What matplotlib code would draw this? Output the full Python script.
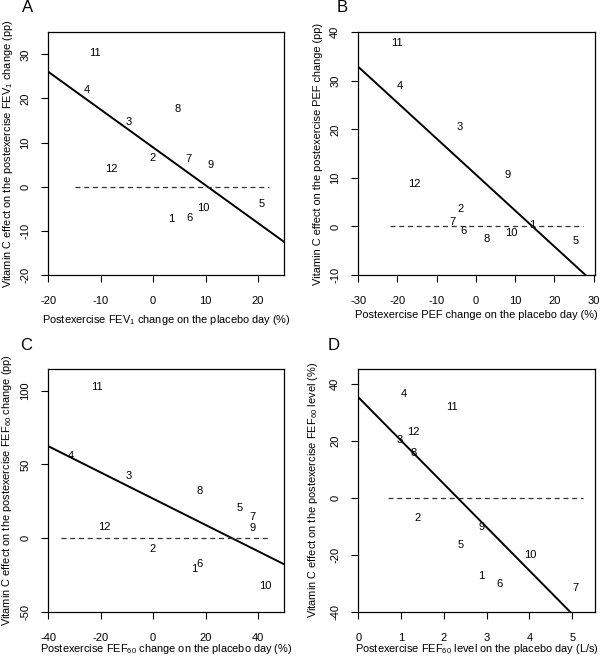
import matplotlib
matplotlib.use("Agg")
import matplotlib.pyplot as plt
import numpy as np

plt.rcParams['font.family'] = ['Liberation Sans', 'DejaVu Sans']
plt.rcParams['mathtext.fontset'] = 'custom'
plt.rcParams['mathtext.rm'] = 'Liberation Sans'
plt.rcParams['mathtext.it'] = 'Liberation Sans:italic'
plt.rcParams['axes.unicode_minus'] = False

ids = ['1', '2', '3', '4', '5', '6', '7', '8', '9', '10', '11', '12']

# panel A: FEV1
fev_x = [3.4, -0.1, -4.7, -12.7, 20.6, 7.0, 6.7, 4.6, 11.0, 9.5, -11.1, -7.9]
fev_y = [-7.2, 6.6, 14.6, 22.0, -3.8, -7.0, 6.2, 17.6, 5.0, -4.9, 30.2, 4.0]
fev_fit = (8.9, -0.857)   # intercept, slope

# panel B: PEF
pef_x = [14.3, -3.8, -4.2, -19.4, 25.3, -3.2, -6.1, 2.7, 8.0, 8.9, -20.1, -15.7]
pef_y = [0.3, 3.6, 20.4, 29.0, -3.0, -1.0, 0.85, -2.65, 10.5, -1.4, 37.7, 8.7]
pef_fit = (10.67, -0.741)

# panel C: FEF60 change
fefc_x = [15.6, -0.4, -9.4, -31.5, 33.0, 17.5, 37.7, 17.9, 37.8, 42.8, -21.3, -18.7]
fefc_y = [-21.0, -7.6, 42.4, 56.0, 20.7, -17.8, 14.6, 31.8, 6.6, -32.3, 102.5, 7.3]
fefc_fit = (26.8, -0.89)

# panel D: FEF60 level
fefl_x = [2.88, 1.39, 0.98, 1.07, 2.39, 3.29, 5.08, 1.29, 2.88, 4.01, 2.20, 1.29]
fefl_y = [-27.4, -7.2, 20.3, 36.4, -16.5, -30.1, -31.6, 15.6, -10.2, -19.9, 31.7, 23.1]
fefl_fit = (35.3, -15.2)

panels = [
    dict(letter='A', x=fev_x, y=fev_y, fit=fev_fit, xlim=(-20, 25), ylim=(-20, 35),
         xt=[-20, -10, 0, 10, 20], yt=[-20, -10, 0, 10, 20, 30], zero=(-15, 22),
         xlabel='Postexercise FEV$_1$ change on the placebo day (%)',
         ylabel='Vitamin C effect on the postexercise FEV$_1$ change (pp)',
         pos=[0.0805, 0.5808, 0.3933, 0.370], xlab_y=-0.185, ylab_x=-0.172,
         letter_xy=(27.5, 8)),
    dict(letter='B', x=pef_x, y=pef_y, fit=pef_fit, xlim=(-30, 30.3), ylim=(-10, 40),
         xt=[-30, -20, -10, 0, 10, 20, 30], yt=[-10, 0, 10, 20, 30, 40], zero=(-22, 27.3),
         xlabel='Postexercise PEF change on the placebo day (%)',
         ylabel='Vitamin C effect on the postexercise PEF change (pp)',
         pos=[0.597, 0.5808, 0.3945, 0.370], xlab_y=-0.165, ylab_x=-0.169,
         letter_xy=(342.5, 8)),
    dict(letter='C', x=fefc_x, y=fefc_y, fit=fefc_fit, xlim=(-40, 50), ylim=(-50, 115),
         xt=[-40, -20, 0, 20, 40], yt=[-50, 0, 50, 100], zero=(-35, 45),
         xlabel='Postexercise FEF$_{60}$ change on the placebo day (%)',
         ylabel='Vitamin C effect on the postexercise FEF$_{60}$ change (pp)',
         pos=[0.0805, 0.0671, 0.3933, 0.371], xlab_y=-0.151, ylab_x=-0.176,
         letter_xy=(26, 345)),
    dict(letter='D', x=fefl_x, y=fefl_y, fit=fefl_fit, xlim=(0, 5.53), ylim=(-40, 45.3),
         xt=[0, 1, 2, 3, 4, 5], yt=[-40, -20, 0, 20, 40], zero=(0.7, 5.25),
         xlabel='Postexercise FEF$_{60}$ level on the placebo day (L/s)',
         ylabel='Vitamin C effect on the postexercise FEF$_{60}$ level (%)',
         pos=[0.597, 0.0671, 0.3945, 0.371], xlab_y=-0.151, ylab_x=-0.193,
         letter_xy=(334, 345)),
]

W, H = 600, 656
fig = plt.figure(figsize=(W / 100, H / 100), dpi=100)

for p in panels:
    ax = fig.add_axes(p['pos'])
    ax.set_xlim(p['xlim'])
    ax.set_ylim(p['ylim'])
    ax.set_xticks(p['xt'])
    ax.set_yticks(p['yt'])
    ax.tick_params(direction='out', length=5, width=0.8, labelsize=8)
    ax.tick_params(axis='x', pad=10)
    ax.tick_params(axis='y', pad=8)
    for lab in ax.get_yticklabels():
        lab.set_rotation(90)
        lab.set_va('center')
    for s in ax.spines.values():
        s.set_linewidth(0.9)

    for i, xv, yv in zip(ids, p['x'], p['y']):
        ax.text(xv, yv, i, ha='center', va='center', fontsize=8)

    a, b = p['fit']
    xs = np.array(p['xlim'])
    ax.plot(xs, a + b * xs, color='black', lw=1.4)
    ax.plot(p['zero'], [0, 0], color='#333333', lw=0.9, ls=(0, (4, 3)))

    ax.set_xlabel(p['xlabel'], fontsize=7.9, va='center')
    ax.xaxis.set_label_coords(0.5, p['xlab_y'])
    ax.set_ylabel(p['ylabel'], fontsize=7.9, va='center')
    ax.yaxis.set_label_coords(p['ylab_x'], 0.5)

    lx, ly = p['letter_xy']
    fig.text(lx / W, 1 - ly / H, p['letter'], fontsize=12, ha='center', va='center')

fig.savefig('out.png', dpi=100)
